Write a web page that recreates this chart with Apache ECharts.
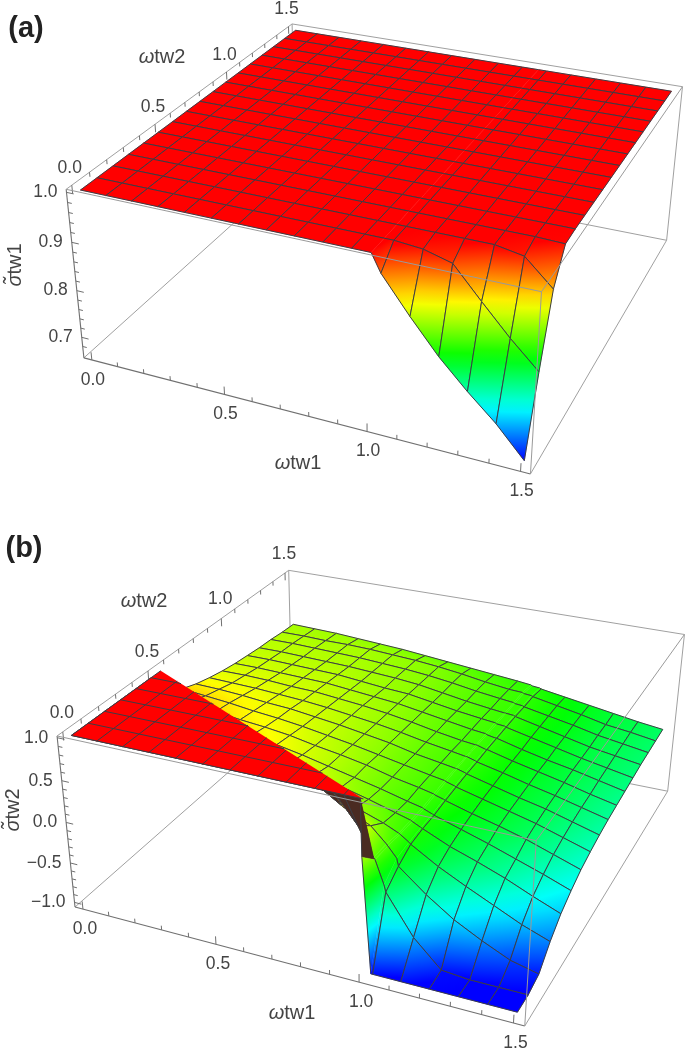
<!DOCTYPE html>
<html><head><meta charset="utf-8">
<style>html,body{margin:0;padding:0;background:#fff}#c{width:685px;height:1051px}</style>
<script src="https://cdn.jsdelivr.net/npm/echarts@6/dist/echarts.min.js"></script>
</head><body><div id="c"></div>
<script>
// ---------- data ----------
const gridAX = [0,0.09375,0.1875,0.28125,0.375,0.46875,0.5625,0.65625,0.75,0.84375,0.9375,1.0,1.03125,1.125,1.21875,1.3125,1.40625,1.5];
const gridY = [0,0.09375,0.1875,0.28125,0.375,0.46875,0.5625,0.65625,0.75,0.84375,0.9375,1.03125,1.125,1.21875,1.3125,1.40625,1.5];
const gridBX = [0,0.09375,0.1875,0.28125,0.375,0.46875,0.5625,0.65625,0.75,0.84375,0.9375,0.99,0.995,1.025,1.03125,1.125,1.21875,1.3125,1.40625,1.5];
const meshOffA = [1.0];         // sampled columns that carry no mesh line
const meshOffB = [0.99,0.995,1.025];
const plateauB = [1.0,0.53];    // edge of the flat sigma=1 region of panel (b): x at y=0, y at x=0
const sigmaA = [
[1,1,1,1,1,1,1,1,1,1,1,1,.965,.895,.83,.775,.725,.665],
[1,1,1,1,1,1,1,1,1,1,1,1,1,.995,.98,.92,.862,.81],
[1,1,1,1,1,1,1,1,1,1,1,1,1,1,1,1,.99,.94],
[1,1,1,1,1,1,1,1,1,1,1,1,1,1,1,1,1,.998],
[1,1,1,1,1,1,1,1,1,1,1,1,1,1,1,1,1,1],
[1,1,1,1,1,1,1,1,1,1,1,1,1,1,1,1,1,1],
[1,1,1,1,1,1,1,1,1,1,1,1,1,1,1,1,1,1],
[1,1,1,1,1,1,1,1,1,1,1,1,1,1,1,1,1,1],
[1,1,1,1,1,1,1,1,1,1,1,1,1,1,1,1,1,1],
[1,1,1,1,1,1,1,1,1,1,1,1,1,1,1,1,1,1],
[1,1,1,1,1,1,1,1,1,1,1,1,1,1,1,1,1,1],
[1,1,1,1,1,1,1,1,1,1,1,1,1,1,1,1,1,1],
[1,1,1,1,1,1,1,1,1,1,1,1,1,1,1,1,1,1],
[1,1,1,1,1,1,1,1,1,1,1,1,1,1,1,1,1,1],
[1,1,1,1,1,1,1,1,1,1,1,1,1,1,1,1,1,1],
[1,1,1,1,1,1,1,1,1,1,1,1,1,1,1,1,1,1],
[1,1,1,1,1,1,1,1,1,1,1,1,1,1,1,1,1,1]];
const sigmaB = [
[1,1,1,1,1,1,1,1,1,1,1,1,.35,-1,-1,-1,-1,-1,-1,-1],
[1,1,1,1,1,1,1,1,1,.88,.5,.17,.15,-.12,-.2,-.66,-.97,-1,-1,-1],
[1,1,1,1,1,1,1,.96,.68,.48,.33,.16,.14,.02,-.07,-.33,-.55,-.72,-.87,-.95],
[1,1,1,1,1,1,.66,.51,.41,.31,.2,.12,.11,.04,.02,-.17,-.33,-.48,-.63,-.75],
[1,1,1,1,.7,.56,.48,.41,.33,.25,.16,.11,.1,.05,.04,-.1,-.21,-.33,-.47,-.6],
[1,1,.72,.6,.54,.49,.43,.36,.29,.22,.14,.1,.09,.05,.04,-.06,-.16,-.27,-.38,-.5],
[.74,.64,.57,.53,.5,.46,.4,.35,.29,.21,.15,.11,.1,.07,.06,-.03,-.11,-.2,-.31,-.42],
[.6,.57,.54,.5,.47,.43,.38,.33,.27,.21,.15,.12,.11,.08,.07,-.01,-.09,-.17,-.27,-.37],
[.53,.52,.5,.47,.45,.41,.37,.32,.27,.2,.15,.12,.12,.09,.08,0,-.08,-.15,-.24,-.33],
[.48,.47,.46,.44,.42,.39,.35,.31,.26,.2,.15,.12,.12,.09,.08,.01,-.07,-.14,-.22,-.3],
[.44,.44,.43,.41,.4,.37,.34,.3,.25,.19,.14,.12,.12,.09,.09,.01,-.06,-.13,-.21,-.28],
[.41,.41,.4,.39,.38,.35,.32,.29,.24,.19,.14,.12,.11,.09,.09,.01,-.06,-.12,-.19,-.26],
[.39,.39,.38,.37,.36,.33,.3,.28,.23,.18,.14,.12,.11,.1,.09,.02,-.05,-.12,-.18,-.24],
[.37,.37,.36,.35,.34,.32,.3,.27,.22,.17,.13,.11,.11,.1,.09,.02,-.05,-.12,-.17,-.22],
[.36,.36,.35,.34,.33,.31,.29,.26,.22,.17,.13,.11,.1,.09,.08,.02,-.04,-.11,-.16,-.21],
[.34,.34,.33,.33,.32,.3,.28,.25,.21,.16,.12,.11,.1,.09,.08,.02,-.04,-.11,-.15,-.2],
[.33,.32,.31,.29,.27,.25,.22,.19,.16,.13,.1,.08,.07,.06,.05,0,-.05,-.1,-.15,-.19]];
const xyMajor = [0,0.5,1,1.5];
const xyMinor = [0.1,0.2,0.3,0.4,0.6,0.7,0.8,0.9,1.1,1.2,1.3,1.4];
const xyLabels = ['0.0','0.5','1.0','1.5'];
const zMajorA = [0.7,0.8,0.9,1];
const zMinorA = [0.68,0.72,0.74,0.76,0.78,0.82,0.84,0.86,0.88,0.92,0.94,0.96,0.98];
const zLabelsA = ['0.7','0.8','0.9','1.0'];
const zMajorB = [-1,-0.5,0,0.5,1];
const zMinorB = [-0.9,-0.8,-0.7,-0.6,-0.4,-0.3,-0.2,-0.1,0.1,0.2,0.3,0.4,0.6,0.7,0.8,0.9];
const zLabelsB = ['\u22121.0','\u22120.5','0.0','0.5','1.0'];

// ---------- camera calibration (layout): box corners in page pixels ----------
const panels = [
 { xs:gridAX, ys:gridY, zs:sigmaA, off:meshOffA, dark:[], range:[0.665,1], zBox:[0.655,1.006], xBox:[-0.031,1.531], yBox:[-0.031,1.531],
   corners:[[0,0,1,66,189],[0,1,1,293,23],[1,1,1,682,87],[1,0,1,541,293],[0,0,0,84,357],[1,0,0,531,474],[1,1,0,667,239],[0,1,0,295,169]],
   zMajor:zMajorA, zMinor:zMinorA, zLabels:zLabelsA,
   xOff:[1,20], yOff:[-2,-17], zOff:[-9,0] },
 { xs:gridBX, ys:gridY, zs:sigmaB, off:meshOffB, dark:['11,0'], range:[-1,1], zBox:[-1.06,1.02], xBox:[-0.031,1.535], yBox:[-0.031,1.531],
   corners:[[0,0,1,57,736],[0,1,1,290,568],[1,1,1,684,636],[1,0,1,535,842],[0,0,0,75,905],[1,0,0,526,1027],[1,1,0,668,788],[0,1,0,291,720]],
   zMajor:zMajorB, zMinor:zMinorB, zLabels:zLabelsB,
   xOff:[2,20], yOff:[-1,-19], zOff:[-9,0] }
];

function solve(A,b){
  const n=b.length; const M=A.map((r,i)=>r.concat([b[i]]));
  for(let c=0;c<n;c++){
    let p=c; for(let r=c+1;r<n;r++) if(Math.abs(M[r][c])>Math.abs(M[p][c])) p=r;
    [M[c],M[p]]=[M[p],M[c]];
    for(let r=0;r<n;r++){ if(r===c) continue; const f=M[r][c]/M[c][c]; for(let k=c;k<=n;k++) M[r][k]-=f*M[c][k]; }
  }
  return M.map((r,i)=>r[n]/r[i]);
}
function fit(corners){
  const rows=[],rhs=[];
  corners.forEach(([u,v,w,px,py])=>{
    rows.push([u,v,w,1,0,0,0,0,-px*u,-px*v,-px*w]); rhs.push(px);
    rows.push([0,0,0,0,u,v,w,1,-py*u,-py*v,-py*w]); rhs.push(py);
  });
  const N=11, A=[],b=[];
  for(let i=0;i<N;i++){ A.push([]); let s=0;
    for(let j=0;j<N;j++){ let t=0; rows.forEach(r=>t+=r[i]*r[j]); A[i].push(t); }
    rows.forEach((r,k)=>s+=r[i]*rhs[k]); b.push(s);
  }
  return solve(A,b);
}
panels.forEach(p=>p.P=fit(p.corners));
function project(pi,x,y,z){
  const p=panels[pi],P=p.P,[a,b]=p.xBox,[a2,b2]=p.yBox,[c,d]=p.zBox;
  const u=(x-a)/(b-a),v=(y-a2)/(b2-a2),w=(z-c)/(d-c);
  const h=P[8]*u+P[9]*v+P[10]*w+1;
  return [(P[0]*u+P[1]*v+P[2]*w+P[3])/h,(P[4]*u+P[5]*v+P[6]*w+P[7])/h];
}
function hue(t){ // t=1 red ... t=0 blue
  t=Math.max(0,Math.min(1,t));
  const h=(1-t)*4, i=Math.floor(h), f=h-i; let r,g,b;
  if(i===0){r=1;g=f;b=0;} else if(i===1){r=1-f;g=1;b=0;} else if(i===2){r=0;g=1;b=f;} else if(i===3){r=0;g=1-f;b=1;} else {r=0;g=0;b=1;}
  return 'rgb('+Math.round(r*255)+','+Math.round(g*255)+','+Math.round(b*255)+')';
}
function cellFill(pts,ts){
  const n=4; let cx=0,cy=0,ct=0;
  for(let k=0;k<n;k++){cx+=pts[k][0];cy+=pts[k][1];ct+=ts[k];} cx/=n;cy/=n;ct/=n;
  let sxx=0,sxy=0,syy=0,sxt=0,syt=0;
  for(let k=0;k<n;k++){const dx=pts[k][0]-cx,dy=pts[k][1]-cy,dt=ts[k]-ct;sxx+=dx*dx;sxy+=dx*dy;syy+=dy*dy;sxt+=dx*dt;syt+=dy*dt;}
  const det=sxx*syy-sxy*sxy, tmin=Math.min.apply(null,ts), tmax=Math.max.apply(null,ts);
  if(tmax-tmin<1e-4||Math.abs(det)<1e-6) return hue(ct);
  const gx=(syy*sxt-sxy*syt)/det, gy=(sxx*syt-sxy*sxt)/det, g2=gx*gx+gy*gy;
  if(g2<1e-12) return hue(ct);
  const x1=cx+gx/g2*(tmin-ct),y1=cy+gy/g2*(tmin-ct),x2=cx+gx/g2*(tmax-ct),y2=cy+gy/g2*(tmax-ct);
  const stops=[]; const m=Math.max(2,Math.ceil((tmax-tmin)*16));
  for(let k=0;k<=m;k++){stops.push({offset:k/m,color:hue(tmin+(tmax-tmin)*k/m)});}
  return {type:'linear',global:true,x:x1,y:y1,x2:x2,y2:y2,colorStops:stops};
}

// ---------- draw lists ----------
const boxColor='#a0a0a0', axisColor='#707070', meshColor='#3c3c44';
const backSegs=[], frontSegs=[], cells=[], labels=[], plateauSegs=[];
panels.forEach((p,pi)=>{
  const [a,bx]=p.xBox,[a2,by]=p.yBox,[c,d]=p.zBox;
  const add=(list,x1,y1,z1,x2,y2,z2,col,w)=>list.push({pi,s:[x1,y1,z1,x2,y2,z2],col,w});
  add(backSegs,a,a2,d,a,by,d,boxColor,1); add(backSegs,a,by,d,bx,by,d,boxColor,1);
  add(backSegs,a,by,d,a,by,c,boxColor,1); add(backSegs,a,by,c,bx,by,c,boxColor,1);
  add(backSegs,a,by,c,a,a2,c,boxColor,1); add(backSegs,bx,by,d,bx,by,c,boxColor,1);
  add(backSegs,bx,by,c,bx,a2,c,boxColor,1);
  add(frontSegs,a,a2,d,bx,a2,d,'#9a9a9a',1); add(frontSegs,bx,a2,d,bx,by,d,'#9a9a9a',1); add(frontSegs,bx,a2,d,bx,a2,c,'#9a9a9a',1);
  add(backSegs,a,a2,d,a,a2,c,axisColor,1.1); add(backSegs,a,a2,c,bx,a2,c,axisColor,1.1);
  const lz=(d-c), lx=(bx-a);
  xyMajor.forEach(v=>{add(backSegs,v,a2,c,v,a2,c+lz*.048,axisColor,1); add(backSegs,a,v,d,a,v,d-lz*.048,axisColor,1);});
  xyMinor.forEach(v=>{add(backSegs,v,a2,c,v,a2,c+lz*.026,axisColor,1); add(backSegs,a,v,d,a,v,d-lz*.026,axisColor,1);});
  p.zMajor.forEach(v=>add(backSegs,a,a2,v,a+lx*.017,a2,v,axisColor,1));
  p.zMinor.forEach(v=>add(backSegs,a,a2,v,a+lx*.01,a2,v,axisColor,1));
  xyMajor.forEach((v,k)=>{
    labels.push({pi,pos:[v,a2,c],off:p.xOff,text:xyLabels[k],align:'center'});
    labels.push({pi,pos:[a,v,d],off:p.yOff,text:xyLabels[k],align:'center'});
  });
  p.zMajor.forEach((v,k)=>labels.push({pi,pos:[a,a2,v],off:p.zOff,text:p.zLabels[k],align:'right'}));
  for(let j=p.ys.length-2;j>=0;j--) for(let i=0;i<p.xs.length-1;i++) cells.push({pi,i,j});
});
// mesh of the flat region of panel (b), cut along its straight edge
const [plX,plY]=plateauB;
gridBX.forEach(x=>{ if(x<plX&&meshOffB.indexOf(x)<0) plateauSegs.push({pi:1,s:[x,0,1,x,plY*(1-x/plX),1],col:meshColor,w:1}); });
gridY.forEach(y=>{ if(y<plY) plateauSegs.push({pi:1,s:[0,y,1,plX*(1-y/plY),y,1],col:meshColor,w:1}); });

function renderSeg(list){ return function(params,api){
  const it=list[api.value(0)], s=it.s;
  const A=api.coord(project(it.pi,s[0],s[1],s[2])), B=api.coord(project(it.pi,s[3],s[4],s[5]));
  return {type:'line',shape:{x1:A[0],y1:A[1],x2:B[0],y2:B[1]},style:{stroke:it.col,lineWidth:it.w,fill:null},silent:true};
};}
function renderCell(params,api){
  const c=cells[api.value(0)],p=panels[c.pi],i=c.i,j=c.j,xs=p.xs,ys=p.ys,zs=p.zs;
  const idx=[[i,j],[i+1,j],[i+1,j+1],[i,j+1]];
  const pts=idx.map(q=>api.coord(project(c.pi,xs[q[0]],ys[q[1]],zs[q[1]][q[0]])));
  const ts=idx.map(q=>(zs[q[1]][q[0]]-p.range[0])/(p.range[1]-p.range[0]));
  let area=0; for(let k=0;k<4;k++){const m=(k+1)%4; area+=pts[k][0]*pts[m][1]-pts[m][0]*pts[k][1];}
  const under=area>20||p.dark.indexOf(i+','+j)>=0;
  const fill= under ? '#4a2b22' : cellFill(pts,ts);
  const kids=[{type:'polygon',shape:{points:pts},style:{fill:fill,stroke:fill,lineWidth:0.4},silent:true}];
  const seg=(a,b)=>kids.push({type:'line',shape:{x1:pts[a][0],y1:pts[a][1],x2:pts[b][0],y2:pts[b][1]},style:{stroke:meshColor,lineWidth:1,fill:null},silent:true});
  seg(0,1); seg(3,2);
  if(p.off.indexOf(xs[i])<0) seg(0,3);
  if(p.off.indexOf(xs[i+1])<0) seg(1,2);
  return {type:'group',children:kids,silent:true};
}
function renderPlateau(params,api){
  const pts=[[0,0],[plX,0],[0,plY]].map(q=>api.coord(project(1,q[0],q[1],1)));
  return {type:'polygon',shape:{points:pts},style:{fill:hue(1)},silent:true};
}
function renderLabel(params,api){
  const l=labels[api.value(0)], q=api.coord(project(l.pi,l.pos[0],l.pos[1],l.pos[2]));
  return {type:'text',x:q[0]+l.off[0],y:q[1]+l.off[1],silent:true,
    style:{text:l.text,fill:'#444',font:'17.5px "Liberation Sans"',align:l.align,verticalAlign:'middle'}};
}
const idxData=list=>list.map((_,k)=>[k,0]);
const custom=(list,fn,z)=>({type:'custom',coordinateSystem:'cartesian2d',clip:false,silent:true,animation:false,z:z,
  data:idxData(list),encode:{x:0,y:1},renderItem:fn});

const rich={w:{font:'italic 20px "Liberation Sans"',fill:'#444'},t:{font:'20px "Liberation Sans"',fill:'#444'}};
const title=(x,y,text,rot)=>({type:'text',x:x,y:y,rotation:rot||0,silent:true,z:50,
  style:{text:text,rich:rich,align:'center',verticalAlign:'middle',fill:'#444'}});
const panelTag=(x,y,text)=>({type:'text',x:x,y:y,silent:true,z:50,
  style:{text:text,font:'bold 29px "Liberation Sans"',fill:'#222',align:'center',verticalAlign:'middle'}});

const chart=echarts.init(document.getElementById('c'),null,{renderer:'canvas',width:685,height:1051});
chart.setOption({
  animation:false, backgroundColor:'#fff', tooltip:{show:false},
  grid:{left:0,right:0,top:0,bottom:0},
  xAxis:{type:'value',min:0,max:685,show:false},
  yAxis:{type:'value',min:0,max:1051,inverse:true,show:false},
  series:[custom(backSegs,renderSeg(backSegs),2),custom(cells,renderCell,3),
    custom([0],renderPlateau,4),custom(plateauSegs,renderSeg(plateauSegs),5),
    custom(frontSegs,renderSeg(frontSegs),6),custom(labels,renderLabel,7)],
  graphic:{elements:[
    panelTag(26,29,'(a)'),panelTag(24,549,'(b)'),
    title(162,57,'{w|\u03c9}{t|tw2}'),title(298,463,'{w|\u03c9}{t|tw1}'),
    title(15,265,'{w|\u03c3\u0303}{t|tw1}',Math.PI/2),
    title(144,601,'{w|\u03c9}{t|tw2}'),title(292,1013,'{w|\u03c9}{t|tw1}'),
    title(13,810,'{w|\u03c3\u0303}{t|tw2}',Math.PI/2)
  ]}
});
</script></body></html>
